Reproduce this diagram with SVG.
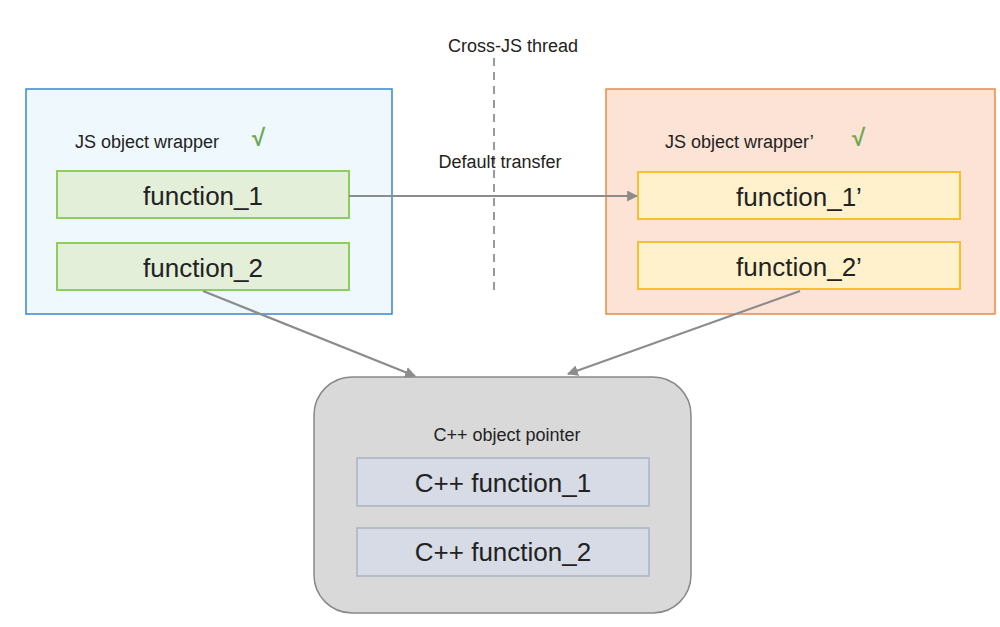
<svg xmlns="http://www.w3.org/2000/svg" width="1000" height="627" viewBox="0 0 1000 627">
<defs>
<style>
text{font-family:"Liberation Sans",Arial,sans-serif;fill:#222}
.lbl{font-size:18px}
.big{font-size:26px;text-anchor:middle}
.chk{fill:#6aa84f;font-size:24px;font-weight:bold}
.conn{stroke:#8c8c8c;stroke-width:2.2;fill:none}
</style>
<marker id="ah" viewBox="0 0 10 10" refX="9" refY="5" markerWidth="5" markerHeight="5" orient="auto"><path d="M0,0L10,5L0,10z" fill="#8c8c8c"/></marker>
</defs>
<rect width="1000" height="627" fill="#fff"/>
<g id="divider">
<line x1="494" y1="58" x2="494" y2="292" stroke="#999" stroke-width="2" stroke-dasharray="8,6"/>
<text x="513" y="52" class="lbl" text-anchor="middle">Cross-JS thread</text>
</g>
<g id="left">
<rect x="26" y="89" width="366" height="225" fill="#eff9fd" stroke="#3a85d0" stroke-width="1.5"/>
<text x="75" y="148" class="lbl">JS object wrapper</text><text x="252" y="146" class="chk">√</text>
<rect x="57" y="171" width="292" height="47" fill="#e3efd9" stroke="#8ccf5a" stroke-width="2"/>
<text x="203" y="205" class="big">function_1</text>
<rect x="57" y="243" width="292" height="47" fill="#e3efd9" stroke="#8ccf5a" stroke-width="2"/>
<text x="203" y="277" class="big">function_2</text>
</g>
<g id="right">
<rect x="606" y="89" width="389" height="225" fill="#fce3d5" stroke="#ea8a45" stroke-width="1.5"/>
<text x="665" y="148" class="lbl">JS object wrapper’</text><text x="852" y="146" class="chk">√</text>
<rect x="638" y="172" width="322" height="47" fill="#fff1cc" stroke="#f5c02e" stroke-width="2"/>
<text x="799" y="206" class="big">function_1’</text>
<rect x="638" y="242" width="322" height="47" fill="#fff1cc" stroke="#f5c02e" stroke-width="2"/>
<text x="799" y="276" class="big">function_2’</text>
</g>
<g id="cpp">
<rect x="314" y="377" width="377" height="236" rx="38" fill="#d9d9d9" stroke="#888" stroke-width="1.5"/>
<text x="507" y="441" class="lbl" text-anchor="middle">C++ object pointer</text>
<rect x="357" y="458" width="292" height="48" fill="#d6dbe5" stroke="#aab4c4" stroke-width="1.5"/>
<text x="503" y="492" class="big">C++ function_1</text>
<rect x="357" y="528" width="292" height="48" fill="#d6dbe5" stroke="#aab4c4" stroke-width="1.5"/>
<text x="503" y="561" class="big">C++ function_2</text>
</g>
<g id="connectors">
<line x1="349" y1="196" x2="637" y2="196" class="conn" marker-end="url(#ah)"/>
<text x="500" y="168" class="lbl" text-anchor="middle">Default transfer</text>
<line x1="203" y1="291" x2="415" y2="376" class="conn" marker-end="url(#ah)"/>
<line x1="800" y1="291" x2="568" y2="374" class="conn" marker-end="url(#ah)"/>
</g>
</svg>
